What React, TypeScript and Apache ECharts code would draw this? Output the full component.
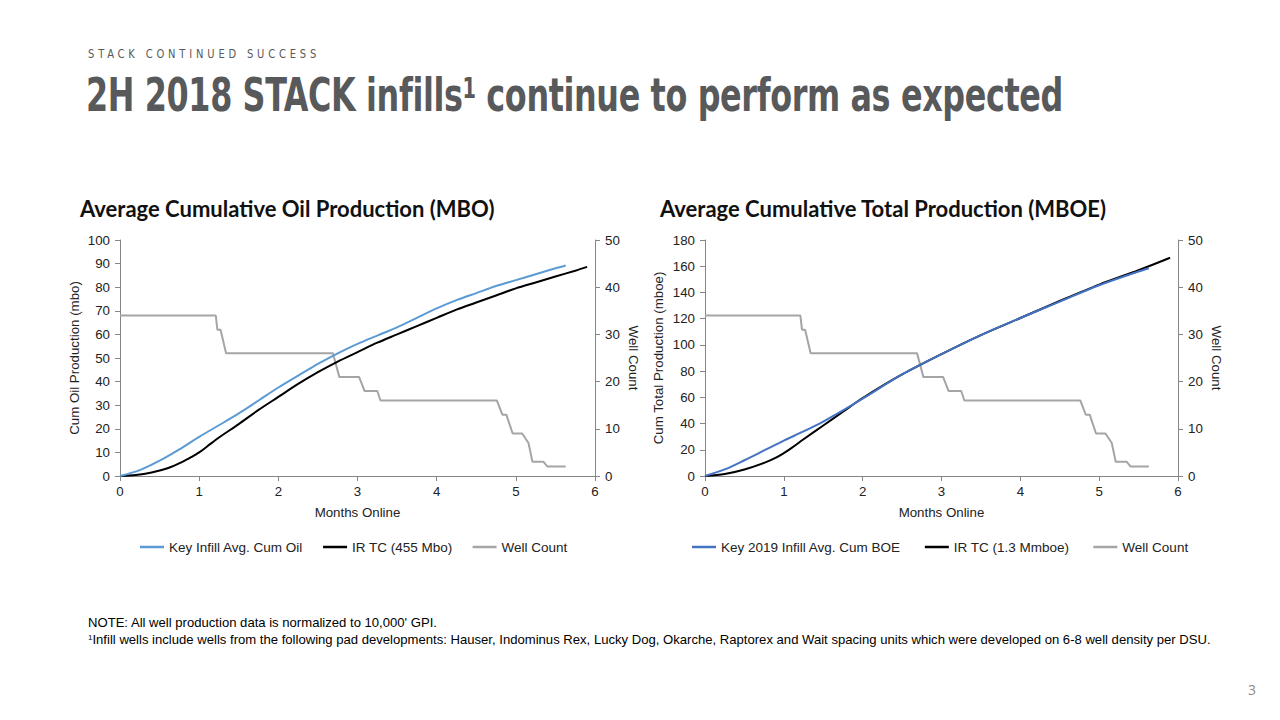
import React, { useEffect, useRef } from "react";
import * as echarts from "echarts";

// ---- Data ----
const oilAvgX = [0, 0.25, 0.5, 0.75, 1, 1.25, 1.5, 1.75, 2, 2.25, 2.5, 2.75, 3, 3.25, 3.5, 3.75, 4, 4.25, 4.5, 4.75, 5, 5.25, 5.5, 5.63];
const oilAvgY = [0, 2.5, 6.5, 11.3, 16.6, 21.5, 26.5, 32, 37.5, 42.5, 47.5, 52, 56, 59.5, 63, 67, 71, 74.5, 77.5, 80.5, 83, 85.5, 88, 89.2];

const oilTcX = [0, 0.2, 0.4, 0.6, 0.8, 0.9, 1, 1.1, 1.25, 1.5, 1.75, 2, 2.25, 2.5, 2.75, 3, 3.25, 3.5, 3.75, 4, 4.25, 4.5, 4.75, 5, 5.25, 5.5, 5.75, 5.9];
const oilTcY = [0, 0.4, 1.5, 3.3, 6.2, 8, 10, 12.5, 16.3, 22, 28, 33.5, 39, 44, 48.5, 52.5, 56.5, 60, 63.5, 67, 70.5, 73.5, 76.5, 79.5, 82, 84.5, 87, 88.6];

const boeAvgX = [0, 0.25, 0.5, 0.75, 1, 1.25, 1.5, 1.75, 2, 2.5, 3, 3.5, 4, 4.5, 5, 5.5, 5.63];
const boeAvgY = [0, 5, 12, 19.5, 27, 34, 41.5, 50, 59, 77.5, 93, 107.5, 120.5, 133, 145.5, 156, 158.5];

const boeTcX = [0, 0.25, 0.5, 0.75, 0.9, 1, 1.1, 1.25, 1.5, 1.75, 2, 2.5, 3, 3.5, 4, 4.5, 5, 5.5, 5.9];
const boeTcY = [0, 1.5, 5, 10, 14, 17.5, 21.5, 28, 38.5, 49, 59.5, 77.5, 93, 107.5, 120.5, 133.5, 146, 157, 166.5];

const wellX = [0, 1.21, 1.23, 1.27, 1.34, 2.69, 2.77, 3.02, 3.09, 3.25, 3.29, 4.76, 4.83, 4.88, 4.96, 5.08, 5.16, 5.21, 5.35, 5.4, 5.63];
const wellY = [34, 34, 31, 31, 26, 26, 21, 21, 18, 18, 16, 16, 13, 13, 9, 9, 7, 3, 3, 2, 2];

const xTicks = { min: 0, max: 6, interval: 1 };
const oilAxis = { min: 0, max: 100, interval: 10 };
const boeAxis = { min: 0, max: 180, interval: 20 };
const wellAxis = { min: 0, max: 50, interval: 10 };

const leftNames = ["Key Infill Avg. Cum Oil", "IR TC (455 Mbo)", "Well Count"];
const rightNames = ["Key 2019 Infill Avg. Cum BOE", "IR TC (1.3 Mmboe)", "Well Count"];

const zip = (xs: number[], ys: number[]) => xs.map((x, i) => [x, ys[i]]);

const AXIS_COLOR = "#868686";
const FONT = "'Liberation Sans', Arial, sans-serif";
const FS = 13.3;

function xAxisCfg(gridIndex: number) {
  return {
    type: "value",
    gridIndex,
    ...xTicks,
    name: "Months Online",
    nameLocation: "middle",
    nameGap: 30,
    nameTextStyle: { color: "#222", fontSize: FS, fontFamily: FONT },
    axisLine: { show: true, lineStyle: { color: AXIS_COLOR, width: 1 } },
    axisTick: { show: true, length: 5, lineStyle: { color: AXIS_COLOR } },
    axisLabel: { color: "#222", fontSize: FS, fontFamily: FONT, margin: 9 },
    splitLine: { show: false },
  };
}

function yAxisCfg(gridIndex: number, range: any, name: string, pos: "left" | "right", nameGap: number) {
  return {
    type: "value",
    gridIndex,
    position: pos,
    ...range,
    name,
    nameLocation: "middle",
    nameGap,
    nameRotate: pos === "left" ? 90 : -90,
    nameTextStyle: { color: "#222", fontSize: FS, fontFamily: FONT },
    axisLine: { show: true, lineStyle: { color: AXIS_COLOR, width: 1 } },
    axisTick: { show: true, length: 5, lineStyle: { color: AXIS_COLOR } },
    axisLabel: { color: "#222", fontSize: FS, fontFamily: FONT, margin: 10 },
    splitLine: { show: false },
  };
}

function lineSeries(name: string, data: number[][], color: string, xi: number, yi: number, smooth: boolean | number) {
  return {
    type: "line",
    name,
    data,
    xAxisIndex: xi,
    yAxisIndex: yi,
    showSymbol: false,
    symbol: "none",
    smooth,
    lineStyle: { color, width: 2 },
    itemStyle: { color },
    z: 3,
  };
}

function legendCfg(names: string[], left: number, gap: number) {
  return {
    data: names,
    left,
    top: 535,
    itemWidth: 24,
    itemHeight: 2.5,
    itemGap: gap,
    icon: "rect",
    textStyle: { color: "#222", fontSize: 13.5, fontFamily: FONT },
    selectedMode: false,
  };
}

export default function App() {
  const ref = useRef<HTMLDivElement>(null);

  useEffect(() => {
    if (!ref.current) return;
    const chart = echarts.init(ref.current, null, { renderer: "svg" });
    const option: any = {
      animation: false,
      backgroundColor: "#ffffff",
      grid: [
        { left: 120, top: 240, width: 475, height: 236, containLabel: false },
        { left: 705, top: 240, width: 473, height: 236, containLabel: false },
      ],
      xAxis: [xAxisCfg(0), xAxisCfg(1)],
      yAxis: [
        yAxisCfg(0, oilAxis, "Cum Oil Production (mbo)", "left", 39),
        yAxisCfg(0, wellAxis, "Well Count", "right", 32),
        yAxisCfg(1, boeAxis, "Cum Total Production (mboe)", "left", 40),
        yAxisCfg(1, wellAxis, "Well Count", "right", 32),
      ],
      legend: [legendCfg(leftNames, 135, 20), legendCfg(rightNames, 687, 24)],
      graphic: [
        {
          type: "text",
          left: 80,
          top: 197,
          style: {
            text: "Average Cumulative Oil Production (MBO)",
            font: "bold 22px Lato, 'Open Sans', sans-serif",
            fill: "#111",
          },
        },
        {
          type: "text",
          left: 660,
          top: 197,
          style: {
            text: "Average Cumulative Total Production (MBOE)",
            font: "bold 22px Lato, 'Open Sans', sans-serif",
            fill: "#111",
          },
        },
      ],
      series: [
        lineSeries(leftNames[2], zip(wellX, wellY), "#A5A5A5", 0, 1, false),
        lineSeries(leftNames[1], zip(oilTcX, oilTcY), "#000000", 0, 0, 0.3),
        lineSeries(leftNames[0], zip(oilAvgX, oilAvgY), "#5B9BD5", 0, 0, 0.3),
        lineSeries(rightNames[2], zip(wellX, wellY), "#A5A5A5", 1, 3, false),
        lineSeries(rightNames[1], zip(boeTcX, boeTcY), "#000000", 1, 2, 0.3),
        lineSeries(rightNames[0], zip(boeAvgX, boeAvgY), "#4472C4", 1, 2, 0.3),
      ],
    };
    chart.setOption(option);
    return () => chart.dispose();
  }, []);

  const narrow = "'Liberation Sans Narrow', 'DejaVu Sans Condensed', Arial, sans-serif";
  return (
    <div style={{ position: "absolute", left: 0, top: 0, width: 1280, height: 720, background: "#fff", overflow: "hidden" }}>
      <div ref={ref} style={{ position: "absolute", left: 0, top: 0, width: 1280, height: 720 }} />
      <div
        style={{
          position: "absolute",
          left: 88,
          top: 46,
          fontFamily: narrow,
          fontSize: 13,
          letterSpacing: 4.5,
          color: "#595959",
          whiteSpace: "nowrap",
          lineHeight: "16px",
          transformOrigin: "left top",
          transform: "scaleX(0.85)",
        }}
      >
        STACK CONTINUED SUCCESS
      </div>
      <div
        style={{
          position: "absolute",
          left: 86,
          top: 68,
          fontFamily: narrow,
          fontWeight: "bold",
          fontSize: 46,
          color: "#58595B",
          whiteSpace: "nowrap",
          lineHeight: "54px",
          transformOrigin: "left top",
          transform: "scaleX(0.77)",
          letterSpacing: -0.5,
        }}
      >
        2H 2018 STACK infills<sup style={{ fontSize: 28, verticalAlign: "top", position: "relative", top: -6 }}>1</sup> continue to perform as expected
      </div>
      <div
        style={{
          position: "absolute",
          left: 88,
          top: 614,
          fontFamily: FONT,
          fontSize: 13.1,
          color: "#000",
          whiteSpace: "nowrap",
          lineHeight: "17px",
        }}
      >
        <div>NOTE: All well production data is normalized to 10,000' GPI.</div>
        <div>
          <sup style={{ fontSize: 8, verticalAlign: "top", position: "relative", top: -2 }}>1</sup>Infill wells include wells from the following pad developments: Hauser, Indominus Rex, Lucky Dog, Okarche, Raptorex and Wait spacing units which were developed on 6-8 well density per DSU.
        </div>
      </div>
      <div
        style={{
          position: "absolute",
          left: 1248,
          top: 680,
          fontFamily: "'Open Sans', sans-serif",
          fontSize: 14,
          color: "#8c8c8c",
        }}
      >
        3
      </div>
    </div>
  );
}
